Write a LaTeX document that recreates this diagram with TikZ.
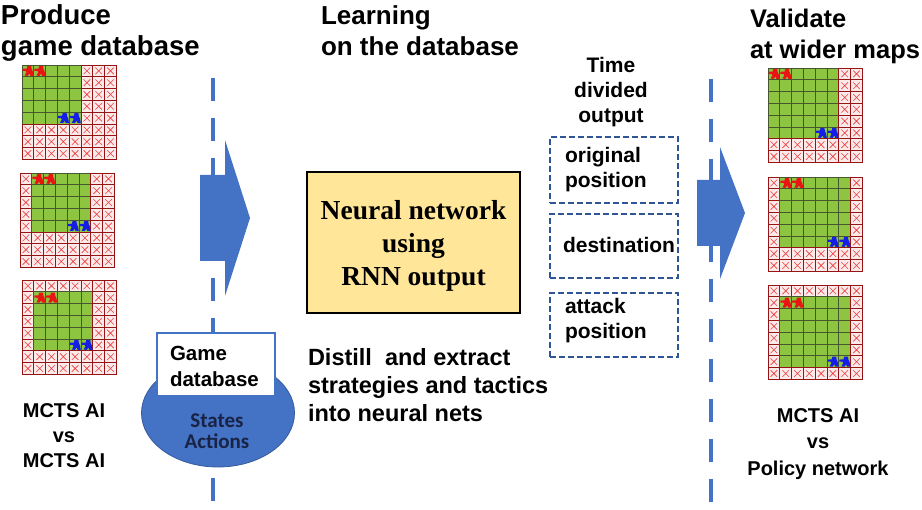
\documentclass[tikz,border=0pt]{standalone}
\usepackage{fontspec}
\setmainfont{Liberation Sans}
\newfontfamily\timesbold{Liberation Serif}
\newfontfamily\calibrifont{Carlito}
\usetikzlibrary{shapes.geometric}

\definecolor{accent}{RGB}{68,114,196}
\definecolor{navy}{RGB}{47,85,151}
\definecolor{darknavy}{RGB}{25,35,70}
\definecolor{boxyellow}{RGB}{255,230,153}
\definecolor{grass}{RGB}{141,196,64}
\definecolor{grassline}{RGB}{70,85,50}
\definecolor{blockfill}{RGB}{252,234,234}
\definecolor{blockline}{RGB}{150,20,20}
\definecolor{crossred}{RGB}{235,60,60}
\definecolor{redunit}{RGB}{235,20,20}
\definecolor{blueunit}{RGB}{20,30,230}

\def\cellsz{11.8}

% 8x8 map: #1,#2 top-left corner; green area spans columns #3..#4 and rows #5..#6
\newcommand{\mapgrid}[6]{%
  \begin{scope}[shift={(#1,#2)}]
    \foreach \i in {0,...,7}{
      \foreach \j in {0,...,7}{
        \pgfmathparse{and(and(\i>=#3,\i<=#4),and(\j>=#5,\j<=#6))}
        \ifdim\pgfmathresult pt>0.5pt
          \fill[grass] (\i*\cellsz,\j*\cellsz) rectangle ++(\cellsz,\cellsz);
          \draw[grassline, line width=0.9pt] (\i*\cellsz,\j*\cellsz) rectangle ++(\cellsz,\cellsz);
        \else
          \fill[blockfill] (\i*\cellsz,\j*\cellsz) rectangle ++(\cellsz,\cellsz);
          \draw[crossred, line width=0.6pt]
            (\i*\cellsz+0.22*\cellsz,\j*\cellsz+0.22*\cellsz) -- ++(0.56*\cellsz,0.56*\cellsz)
            (\i*\cellsz+0.78*\cellsz,\j*\cellsz+0.22*\cellsz) -- ++(-0.56*\cellsz,0.56*\cellsz);
          \draw[blockline, line width=0.9pt] (\i*\cellsz,\j*\cellsz) rectangle ++(\cellsz,\cellsz);
        \fi
      }
    }
  \end{scope}}

% one unit figure (soldier with rifle) in cell (#3,#4) of the map at (#1,#2), colour #5
\newcommand{\trooper}[5]{%
  \begin{scope}[shift={(#1+#3*\cellsz,#2+#4*\cellsz)}, scale=\cellsz]
    \fill[#5] (0.45,0.08) -- (0.78,0.08) -- (0.82,0.35) -- (0.92,0.55) -- (0.98,0.92)
      -- (0.72,0.92) -- (0.62,0.72) -- (0.48,0.92) -- (0.22,0.90) -- (0.38,0.60)
      -- (0.30,0.50) -- (0.05,0.50) -- (0.05,0.32) -- (0.40,0.30) -- cycle;
  \end{scope}}

\newcommand{\fullmap}[8]{%
  \mapgrid{#1}{#2}{#3}{#4}{#5}{#6}
  \trooper{#1}{#2}{#3}{#5}{redunit}
  \trooper{#1}{#2}{\numexpr#3+1\relax}{#5}{redunit}
  \trooper{#1}{#2}{#7}{#6}{blueunit}
  \trooper{#1}{#2}{#8}{#6}{blueunit}}

\begin{document}
\begin{tikzpicture}[x=1pt, y=-1pt,
  every node/.style={inner sep=0pt, outer sep=0pt},
  heading/.style={align=left, anchor=north west},
  caption/.style={font=\fontsize{21}{25}\selectfont\bfseries},
  divider/.style={draw=accent, line width=4pt, dash pattern=on 23pt off 17pt},
  blockarrow/.style={fill=accent},
  dashbox/.style={draw=navy, line width=2.5pt, dash pattern=on 6pt off 3pt}]

\useasboundingbox[fill=white] (0,0) rectangle (922,510);

% section dividers
\coordinate (ltop) at (213,78);
\coordinate (lbot) at (213,506);
\coordinate (rtop) at (711,79);
\coordinate (rbot) at (711,506);
\draw[divider] (ltop) -- (lbot);
\draw[divider] (rtop) -- (rbot);

% block arrows
\fill[blockarrow] (200,175) -- (225,175) -- (225,140) -- (250,218) -- (225,296)
  -- (225,261) -- (200,261) -- cycle;
\fill[blockarrow] (697,180) -- (720,180) -- (720,147) -- (745,213) -- (720,279)
  -- (720,246) -- (697,246) -- cycle;

% headings
\node[heading, font=\fontsize{27.5}{31}\selectfont\bfseries] (h1) at (1,5) {Produce\\game database};
\node[heading, font=\fontsize{26}{31}\selectfont\bfseries] (h2) at (321,6) {Learning\\on the database};
\node[heading, font=\fontsize{25.5}{31}\selectfont\bfseries] (h3) at (750,9) {Validate\\at wider maps};

% game maps
\fullmap{22}{65}{0}{4}{0}{4}{3}{4}
\fullmap{20}{173}{1}{5}{0}{4}{4}{5}
\fullmap{22}{280}{1}{5}{1}{5}{4}{5}
\fullmap{768}{68}{0}{5}{0}{5}{4}{5}
\fullmap{768}{177}{1}{6}{0}{5}{5}{6}
\fullmap{768}{285}{1}{6}{1}{6}{5}{6}

% players
\node[font=\fontsize{20}{25}\selectfont\bfseries, align=center] (left players) at (64,436) {MCTS AI\\vs\\MCTS AI};
\node[font=\fontsize{20}{26.5}\selectfont\bfseries, align=center] (right players) at (818,444) {MCTS AI\\vs\\Policy network};

% database
\node[ellipse, fill=accent, draw=accent!80!black, line width=0.8pt,
  minimum width=153pt, minimum height=108pt] (db) at (218,413) {};
\node[font=\calibrifont\fontsize{21}{21}\selectfont\bfseries, text=darknavy, align=center]
  (db content) at (217,431) {States\\Actions};
\node[draw=accent, fill=white, line width=1.8pt, minimum width=118pt, minimum height=63pt]
  (db box) at (216,364.5) {};
\node[font=\fontsize{20.5}{26}\selectfont\bfseries, align=left, anchor=west]
  (db label) at (170,366) {Game\\database};

% neural network
\node[draw=black, fill=boxyellow, line width=2.5pt, minimum width=213pt, minimum height=141pt]
  (nn) at (413.5,242.5) {};
\node[font=\timesbold\fontsize{27.5}{33}\selectfont\bfseries, align=center]
  (nn text) at (413.5,246) {Neural network\\using\\RNN output};
\node[font=\fontsize{23.5}{28}\selectfont\bfseries, align=left, anchor=north west]
  (distill) at (308,348) {Distill\ \ and extract\\strategies and tactics\\into neural nets};

% time divided outputs
\node[caption, align=center] (time) at (611,92) {Time\\divided\\output};
\node[dashbox, minimum width=128pt, minimum height=66pt] (out1) at (614,170) {};
\node[dashbox, minimum width=128pt, minimum height=64pt] (out2) at (614,246) {};
\node[dashbox, minimum width=128pt, minimum height=64pt] (out3) at (614,325) {};
\node[caption, align=left, anchor=west] (out1 text) at (565,170) {original\\position};
\node[caption] (out2 text) at (619,245) {destination};
\node[caption, align=left, anchor=west] (out3 text) at (565,321) {attack\\position};

\end{tikzpicture}
\end{document}
